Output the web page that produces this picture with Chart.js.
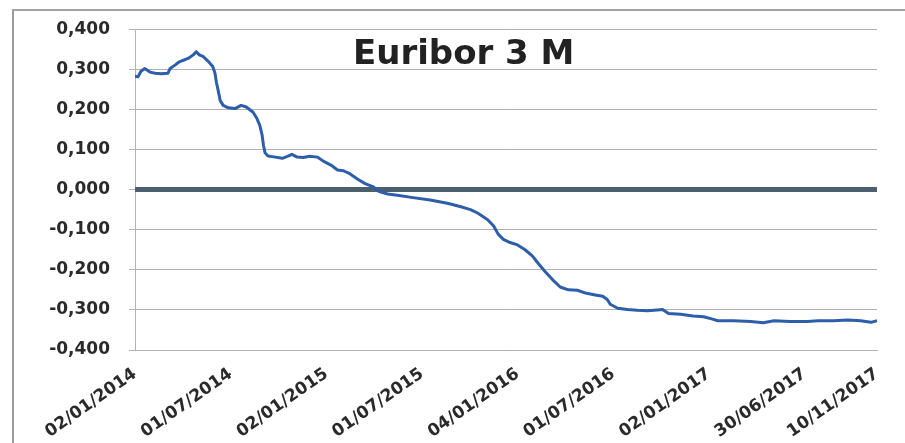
<!DOCTYPE html>
<html lang="es">
<head>
    <meta charset="UTF-8">
    <title>Euribor 3 M</title>
    <script src="https://cdn.jsdelivr.net/npm/chart.js"></script>
    <style>
        body {
            margin: 0;
            padding: 0;
            background: #ffffff;
            overflow: hidden;
        }
        .frame {
            position: absolute;
            left: 12px;
            top: 9px;
            width: 1000px;
            height: 600px;
            border-left: 2px solid #9c9c9c;
            border-top: 2px solid #a4a4a4;
        }
        .chart-container {
            position: absolute;
            left: 0;
            top: 0;
            width: 905px;
            height: 443px;
        }
    </style>
</head>
<body>
    <div class="frame"></div>
    <div class="chart-container">
        <canvas id="euriborChart"></canvas>
    </div>

    <script>
        // trading-day index (0 = 02/01/2014) and Euribor 3M value
        const dayIdx = [0, 4, 8, 13, 20, 27, 35, 44, 47, 54, 58, 64, 71, 78, 82, 86, 91, 98, 104, 107,
            109, 111, 114, 118, 125, 134, 142, 149, 158, 163, 167, 170, 172, 174, 178, 188, 197, 204, 210, 217,
            225, 234, 244, 252, 264, 271, 279, 288, 297, 308, 319, 326, 338, 351, 372, 395, 418, 435, 449, 459,
            472, 480, 486, 493, 502, 512, 522, 532, 540, 549, 559, 569, 580, 592, 603, 614, 626, 632, 636, 646,
            659, 672, 686, 699, 706, 714, 730, 747, 761, 773, 780, 801, 824, 841, 855, 877, 900, 914, 935, 954,
            971, 985, 993];
        const euribor = [0.283, 0.281, 0.295, 0.302, 0.293, 0.290, 0.289, 0.290, 0.302, 0.311, 0.317, 0.322, 0.327, 0.336, 0.344, 0.336, 0.332, 0.320, 0.307, 0.291,
            0.267, 0.250, 0.222, 0.210, 0.204, 0.202, 0.210, 0.206, 0.193, 0.178, 0.160, 0.137, 0.110, 0.092, 0.084, 0.081, 0.078, 0.083, 0.088, 0.081,
            0.080, 0.083, 0.081, 0.071, 0.059, 0.049, 0.047, 0.039, 0.027, 0.015, 0.007, -0.004, -0.011, -0.014, -0.020, -0.026, -0.034, -0.042, -0.050, -0.059,
            -0.075, -0.091, -0.111, -0.124, -0.132, -0.138, -0.150, -0.166, -0.185, -0.205, -0.225, -0.243, -0.250, -0.251, -0.258, -0.262, -0.266, -0.274, -0.286, -0.296,
            -0.299, -0.301, -0.302, -0.300, -0.299, -0.309, -0.311, -0.315, -0.317, -0.323, -0.327, -0.327, -0.329, -0.332, -0.327, -0.329, -0.329, -0.327, -0.327, -0.325,
            -0.327, -0.331, -0.327];

        // thick zero reference line
        const zeroIdx = [0, 993];
        const zeroLine = [0, 0];

        const xTickIdx = [0, 128, 256, 384, 512, 640, 768, 896, 993];
        const xTickLabels = ['02/01/2014', '01/07/2014', '02/01/2015', '01/07/2015', '04/01/2016',
            '01/07/2016', '02/01/2017', '30/06/2017', '10/11/2017'];
        const yTicks = [-0.4, -0.3, -0.2, -0.1, 0, 0.1, 0.2, 0.3, 0.4];

        const chartTitle = 'Euribor 3 M';

        const labelFont = { family: 'DejaVu Sans', weight: 'bold', size: 17 };
        const gridColor = '#b2b2b2';

        const titleInside = {
            id: 'titleInside',
            afterDraw(chart) {
                const { ctx, chartArea } = chart;
                ctx.save();
                ctx.font = 'bold 34px "DejaVu Sans"';
                ctx.fillStyle = '#222222';
                ctx.textAlign = 'center';
                ctx.textBaseline = 'middle';
                ctx.fillText(chartTitle, chartArea.left + (chartArea.right - chartArea.left) * 0.443, chartArea.top + 26);
                ctx.restore();
            }
        };

        const ctx = document.getElementById('euriborChart').getContext('2d');
        new Chart(ctx, {
            type: 'line',
            data: {
                datasets: [
                    {
                        label: 'Euribor 3 M',
                        data: dayIdx.map((d, i) => ({ x: d, y: euribor[i] })),
                        borderColor: '#2c5ea9',
                        borderWidth: 3,
                        borderJoinStyle: 'round',
                        pointRadius: 0,
                        tension: 0
                    },
                    {
                        label: '0',
                        data: zeroIdx.map((d, i) => ({ x: d, y: zeroLine[i] })),
                        borderColor: '#4b5f6e',
                        borderWidth: 5,
                        pointRadius: 0,
                        tension: 0
                    }
                ]
            },
            options: {
                responsive: true,
                maintainAspectRatio: false,
                animation: false,
                layout: {
                    padding: { left: 0, right: 28, top: 22, bottom: 0 }
                },
                plugins: {
                    legend: { display: false },
                    tooltip: { enabled: false }
                },
                scales: {
                    x: {
                        type: 'linear',
                        min: 0,
                        max: 993,
                        afterBuildTicks: (scale) => {
                            scale.ticks = xTickIdx.map(v => ({ value: v }));
                        },
                        afterFit: (scale) => { scale.height = 93; },
                        grid: { drawOnChartArea: false, drawTicks: false },
                        border: { display: true, color: gridColor },
                        ticks: {
                            autoSkip: false,
                            minRotation: 35,
                            maxRotation: 35,
                            padding: 14,
                            color: '#2a2a2a',
                            font: labelFont,
                            callback: (value, index) => xTickLabels[index]
                        }
                    },
                    y: {
                        min: -0.4,
                        max: 0.4,
                        afterBuildTicks: (scale) => {
                            scale.ticks = yTicks.map(v => ({ value: v }));
                        },
                        afterFit: (scale) => { scale.width = 135; },
                        grid: { color: gridColor, lineWidth: 1, tickLength: 6 },
                        border: { display: true, color: gridColor },
                        ticks: {
                            padding: 19,
                            color: '#2a2a2a',
                            font: labelFont,
                            callback: (value) => value.toFixed(3).replace('.', ',')
                        }
                    }
                }
            },
            plugins: [titleInside]
        });
    </script>
</body>
</html>
